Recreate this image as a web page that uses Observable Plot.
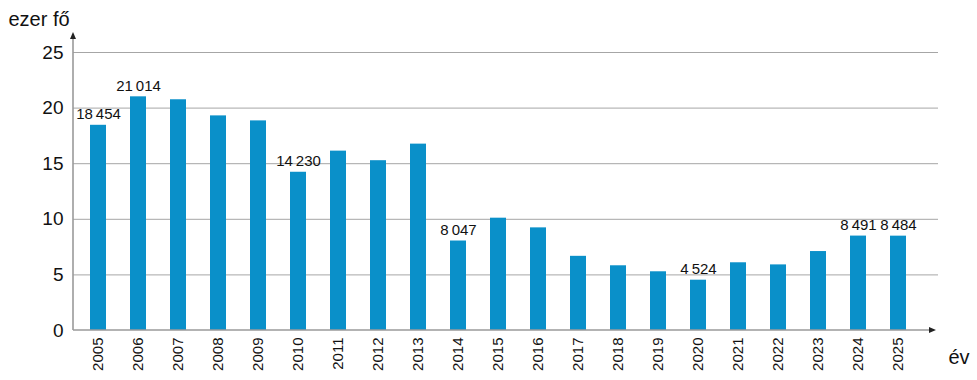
<!DOCTYPE html>
<html><head><meta charset="utf-8">
<script src="https://cdn.jsdelivr.net/npm/d3@7"></script>
<script src="https://cdn.jsdelivr.net/npm/@observablehq/plot@0.6"></script>
<style>body{margin:0;background:#fff}</style>
</head><body><div id="chart"></div>
<script>
const years = ["2005","2006","2007","2008","2009","2010","2011","2012","2013","2014","2015","2016","2017","2018","2019","2020","2021","2022","2023","2024","2025"];
const values = [18.454, 21.014, 20.75, 19.3, 18.85, 14.23, 16.13, 15.27, 16.76, 8.047, 10.1, 9.23, 6.67, 5.82, 5.28, 4.524, 6.09, 5.9, 7.1, 8.491, 8.484];
const labelYears = ["2005","2006","2010","2014","2020","2024","2025"];
const labelTexts = ["18\u2009454","21\u2009014","14\u2009230","8\u2009047","4\u2009524","8\u2009491","8\u2009484"];
const yTicks = [0, 5, 10, 15, 20, 25];
const yTitle = "ezer fő";
const xTitle = "év";

const data = years.map((y, i) => ({year: y, value: values[i]}));
const labels = labelYears.map((y, i) => ({year: y, value: values[years.indexOf(y)], text: labelTexts[i]}));

function axisLines(index, scales, vals, dims) {
  const ns = "http://www.w3.org/2000/svg";
  const g = document.createElementNS(ns, "g");
  const x0 = dims.marginLeft;
  const y0 = scales.y(0);
  const yTip = dims.marginTop - 20;
  const xTip = dims.width - dims.marginRight - 2;
  const mk = (d, attrs) => {
    const p = document.createElementNS(ns, "path");
    p.setAttribute("d", d);
    for (const k in attrs) p.setAttribute(k, attrs[k]);
    g.appendChild(p);
  };
  mk(`M${x0},${y0}V${yTip + 6}`, {stroke: "#9a9a9a", "stroke-width": 1.6, fill: "none"});
  mk(`M${x0},${y0}H${xTip - 6}`, {stroke: "#9a9a9a", "stroke-width": 1.6, fill: "none"});
  mk(`M${x0},${yTip}L${x0 - 3},${yTip + 7}L${x0 + 3},${yTip + 7}Z`, {fill: "#222"});
  mk(`M${xTip},${y0}L${xTip - 7},${y0 - 3}L${xTip - 7},${y0 + 3}Z`, {fill: "#222"});
  return g;
}

const chart = Plot.plot({
  width: 977,
  height: 380,
  marginLeft: 73,
  marginRight: 39,
  marginTop: 52,
  marginBottom: 50,
  style: {fontFamily: "'Liberation Sans', Arial, sans-serif", color: "#111", background: "#fff"},
  x: {domain: years, range: [74.4, 920.7], paddingInner: 0.6, paddingOuter: 0.3},
  y: {domain: [0, 25]},
  marks: [
    Plot.gridY(yTicks.filter(d => d > 0), {stroke: "#a6a6a6", strokeOpacity: 1, strokeWidth: 1}),
    Plot.barY(data, {x: "year", y: "value", fill: "#0a90c9"}),
    axisLines,
    Plot.axisY(yTicks, {tickSize: 0, tickPadding: 10, fontSize: 19, label: null}),
    Plot.axisX({tickSize: 0, tickPadding: 7, tickRotate: -90, fontSize: 15, label: null}),
    Plot.text(labels, {x: "year", y: "value", text: "text", dy: -6, lineAnchor: "bottom", fontSize: 15, fill: "#111"}),
    Plot.text([yTitle], {frameAnchor: "top-left", dx: -65, dy: -27, textAnchor: "start", lineAnchor: "bottom", fontSize: 20, fill: "#111"}),
    Plot.text([xTitle], {frameAnchor: "bottom-right", dx: 10, dy: 33, textAnchor: "start", lineAnchor: "bottom", fontSize: 20, fill: "#111"})
  ]
});
document.getElementById("chart").appendChild(chart);
</script>
</body></html>
